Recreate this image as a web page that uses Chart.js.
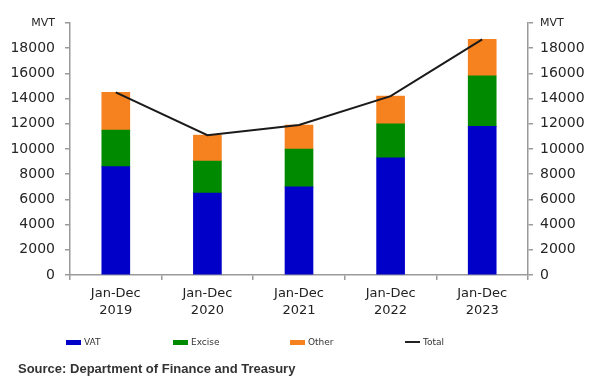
<!DOCTYPE html>
<html>
<head>
<meta charset="utf-8">
<script src="https://cdn.jsdelivr.net/npm/chart.js@4/dist/chart.umd.min.js"></script>
<style>
  html, body { margin: 0; padding: 0; background: #fff; }
  #wrap { position: relative; width: 591px; height: 378px; overflow: hidden; }
  #chart { position: absolute; left: 0; top: 0; }
  .lg { position: absolute; top: 336px; height: 12px; display: flex; align-items: center;
        font-family: "DejaVu Sans", sans-serif; font-size: 9px; color: #333; white-space: nowrap; }
  .lg .sw { display: inline-block; width: 15px; height: 5px; margin-right: 3px; }
  .lg .ln { display: inline-block; width: 15px; height: 2px; margin-right: 3px; background: #222; }
  #source { position: absolute; left: 18px; top: 361px; font-family: "Liberation Sans", Arial, sans-serif;
            font-weight: bold; font-size: 13px; color: #333; white-space: nowrap; }
</style>
</head>
<body>
<div id="wrap">
  <canvas id="chart" width="591" height="378"></canvas>
  <div id="legend"></div>
  <div id="source">Source: Department of Finance and Treasury</div>
</div>
<script>
// Tax revenue, MVT millions, full calendar years
const categories = [['Jan-Dec', '2019'], ['Jan-Dec', '2020'], ['Jan-Dec', '2021'], ['Jan-Dec', '2022'], ['Jan-Dec', '2023']];
const vat    = [8600, 6500, 7000, 9300, 11800];
const excise = [2900, 2550, 3000, 2700, 4000];
const other  = [3000, 2050, 1900, 2200, 2900];
const total  = [14500, 11100, 11900, 14200, 18700];
const yTicks = [0, 2000, 4000, 6000, 8000, 10000, 12000, 14000, 16000, 18000, 20000];
const unitLabel = 'MVT';

const seriesNames  = ['VAT', 'Excise', 'Other', 'Total'];
const seriesColors = ['#0000c8', '#008a00', '#f5821f', '#1a1a1a'];

const tickFont = ctx => (ctx.tick && ctx.tick.value === 20000)
  ? { family: 'DejaVu Sans', size: 11 }
  : { family: 'DejaVu Sans', size: 14 };
const tickLabel = v => (v === 20000 ? unitLabel : String(v));

function valueAxis(position, fitWidth, pad) {
  return {
    type: 'linear',
    position: position,
    stacked: position === 'left',
    min: 0,
    max: 20000,
    afterBuildTicks: axis => { axis.ticks = yTicks.map(v => ({ value: v })); },
    afterFit: axis => { axis.width = fitWidth; },
    grid: { drawOnChartArea: false, drawTicks: true, tickLength: 5, color: '#9a9a9a', lineWidth: 1.5 },
    border: { display: true, color: '#9a9a9a', width: 1.5 },
    ticks: { callback: tickLabel, font: tickFont, color: '#262626', padding: pad }
  };
}

const chart = new Chart(document.getElementById('chart'), {
  data: {
    labels: categories,
    datasets: [
      { type: 'bar', label: seriesNames[0], data: vat,    backgroundColor: seriesColors[0], yAxisID: 'y', order: 1, barThickness: 28 },
      { type: 'bar', label: seriesNames[1], data: excise, backgroundColor: seriesColors[1], yAxisID: 'y', order: 1, barThickness: 28 },
      { type: 'bar', label: seriesNames[2], data: other,  backgroundColor: seriesColors[2], yAxisID: 'y', order: 1, barThickness: 28 },
      { type: 'line', label: seriesNames[3], data: total, borderColor: seriesColors[3], borderWidth: 2,
        pointRadius: 0, tension: 0, fill: false, yAxisID: 'yR', order: 0 }
    ]
  },
  options: {
    responsive: false,
    animation: false,
    layout: { padding: { top: 23, left: 0, right: 0, bottom: 58 } },
    plugins: { legend: { display: false }, tooltip: { enabled: false } },
    scales: {
      x: {
        stacked: true,
        afterFit: axis => { axis.height = 45; },
        grid: { drawOnChartArea: false, drawTicks: true, tickLength: 5, color: '#9a9a9a', lineWidth: 1.5, offset: true },
        border: { display: true, color: '#9a9a9a', width: 1.5 },
        ticks: { font: { family: 'DejaVu Sans', size: 13, lineHeight: 1.3 }, color: '#222', padding: 5, maxRotation: 0 }
      },
      y: valueAxis('left', 70, 10),
      yR: valueAxis('right', 63, 7)
    }
  }
});

// Legend row under the axis
const legendLeft = [66, 173, 290, 405];
const legendEl = document.getElementById('legend');
seriesNames.forEach((name, i) => {
  const item = document.createElement('div');
  item.className = 'lg';
  item.style.left = legendLeft[i] + 'px';
  const mark = document.createElement('span');
  if (i === 3) { mark.className = 'ln'; } else { mark.className = 'sw'; mark.style.background = seriesColors[i]; }
  item.appendChild(mark);
  item.appendChild(document.createTextNode(name));
  legendEl.appendChild(item);
});
</script>
</body>
</html>
